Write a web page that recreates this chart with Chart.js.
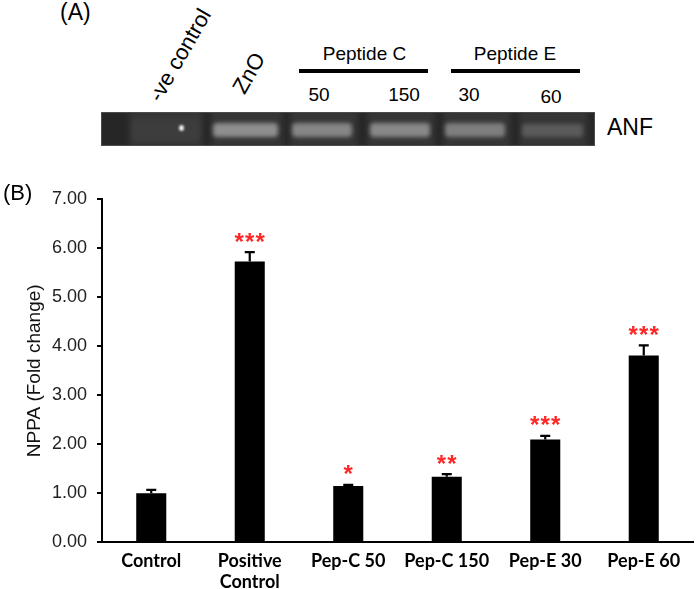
<!DOCTYPE html>
<html><head><meta charset="utf-8">
<script src="https://cdn.jsdelivr.net/npm/chart.js@4.4.1/dist/chart.umd.min.js"></script>
<style>
html,body{margin:0;padding:0;background:#fff;}
#page{position:relative;width:699px;height:589px;overflow:hidden;background:#fff;font-family:"Liberation Sans",Arial,sans-serif;color:#000;}
.t{position:absolute;white-space:nowrap;line-height:1;}
#gel{position:absolute;left:101px;top:112px;width:494px;height:34px;background:#262626;overflow:hidden;}
#gelFrame{position:absolute;left:101px;top:112px;width:492px;height:32px;border:1px solid #4c4c4c;}
.lane{position:absolute;top:-4px;height:42px;background:#363636;filter:blur(3px);}
.band{position:absolute;border-radius:4px;filter:blur(2.2px);}
.rule{position:absolute;height:4px;background:#000;}
#chartBox{position:absolute;left:0;top:170px;width:699px;height:419px;}
</style></head>
<body><div id="page">
<div id="gel"></div>
<div id="gelFrame"></div>
<div id="chartBox"><canvas id="c"></canvas></div>
</div>
<script>
// ---- data ----
const categories = ['Control', ['Positive', 'Control'], 'Pep-C 50', 'Pep-C 150', 'Pep-E 30', 'Pep-E 60'];
const meanValues = [1.00, 5.73, 1.15, 1.34, 2.10, 3.81];
const errValues  = [0.07, 0.19, 0.02, 0.05, 0.07, 0.21];
const significance = ['', '***', '*', '**', '***', '***'];
const yTickValues = [0, 1, 2, 3, 4, 5, 6, 7];
const yAxisTitle = 'NPPA (Fold change)';
// panel A texts
const laneHeaders = ['-ve control', 'ZnO'];
const groupNames = ['Peptide C', 'Peptide E'];
const doseLabels = ['50', '150', '30', '60'];
const geneName = 'ANF';

// ---- panel A (gel) layout ----
const page = document.getElementById('page');
const gel = document.getElementById('gel');
function addText(str, x, base, size, align, rot) {
  const d = document.createElement('div');
  d.className = 't';
  d.textContent = str;
  d.style.fontSize = size + 'px';
  const asc = 0.8465 * size;
  d.style.top = (base - asc) + 'px';
  d.style.left = x + 'px';
  if (rot) {
    d.style.transformOrigin = '0 ' + asc + 'px';
    d.style.transform = 'rotate(' + rot + 'deg)';
  } else if (align === 'center') {
    d.style.transform = 'translateX(-50%)';
  }
  page.appendChild(d);
  return d;
}
addText('(A)', 60, 20, 23);
addText('(B)', 3, 201, 22);
addText(laneHeaders[0], 161, 104, 22, null, -60);
addText(laneHeaders[1], 245, 96, 22, null, -60);
addText(groupNames[0], 364.5, 60, 19, 'center');
addText(groupNames[1], 515, 60, 19, 'center');
[[319, 101.5], [404, 101.5], [469, 101], [551, 103]].forEach((p, i) => addText(doseLabels[i], p[0], p[1], 19, 'center'));
addText(geneName, 607, 135, 23);
[[299, 428], [451, 580]].forEach(r => {
  const d = document.createElement('div'); d.className = 'rule';
  d.style.left = r[0] + 'px'; d.style.width = (r[1] - r[0]) + 'px'; d.style.top = '69px';
  page.appendChild(d);
});
// lanes and bands (gel picture), x relative to gel left (101), y relative to gel top (112)
[[28, 102], [110, 182], [189, 257], [266, 334], [342, 410], [418, 487]].forEach(l => {
  const d = document.createElement('div'); d.className = 'lane';
  d.style.left = l[0] + 'px'; d.style.width = (l[1] - l[0]) + 'px'; gel.appendChild(d);
});
[[31, 99, 7, 22, '#3d3d3d'], [112, 177, 11, 14, '#8e8e8e'], [191, 251, 11, 14, '#868686'],
 [269, 329, 11, 14, '#888888'], [344, 404, 11, 14, '#7e7e7e'], [421, 482, 12, 13, '#5b5b5b']].forEach(b => {
  const d = document.createElement('div'); d.className = 'band';
  d.style.left = b[0] + 'px'; d.style.width = (b[1] - b[0]) + 'px';
  d.style.top = b[2] + 'px'; d.style.height = b[3] + 'px'; d.style.background = b[4];
  gel.appendChild(d);
});
(function () {
  const d = document.createElement('div'); d.className = 'band';
  d.style.left = '78px'; d.style.top = '13px'; d.style.width = '5px'; d.style.height = '6px';
  d.style.background = '#f0f0f0'; d.style.borderRadius = '50%'; d.style.filter = 'blur(0.8px)';
  gel.appendChild(d);
})();

// ---- panel B (Chart.js) ----
const errorBars = {
  id: 'errorBars',
  afterDatasetsDraw(chart) {
    const ctx = chart.ctx, meta = chart.getDatasetMeta(0), y = chart.scales.y;
    ctx.save();
    meta.data.forEach((bar, i) => {
      const v = meanValues[i], e = errValues[i];
      const y0 = y.getPixelForValue(v), y1 = y.getPixelForValue(v + e);
      ctx.strokeStyle = '#000'; ctx.lineWidth = 2.2;
      ctx.beginPath();
      ctx.moveTo(bar.x, y0); ctx.lineTo(bar.x, y1);
      ctx.moveTo(bar.x - 5, y1); ctx.lineTo(bar.x + 5, y1);
      ctx.stroke();
      const s = significance[i];
      if (s) {
        ctx.fillStyle = '#ff2626';
        ctx.font = 'bold 24px "Liberation Sans", Arial, sans-serif';
        ctx.textAlign = 'center'; ctx.textBaseline = 'alphabetic';
        const m = ctx.measureText('*');
        const mid = (m.actualBoundingBoxAscent - m.actualBoundingBoxDescent) / 2;
        const cy = y1 - 15;
        for (let k = 0; k < s.length; k++) {
          ctx.fillText('*', bar.x + (k - (s.length - 1) / 2) * 10.5, cy + mid);
        }
      }
    });
    ctx.restore();
  }
};

new Chart(document.getElementById('c'), {
  type: 'bar',
  data: {
    labels: categories,
    datasets: [{ data: meanValues, backgroundColor: '#000', borderWidth: 0, barPercentage: 0.305, categoryPercentage: 1 }]
  },
  options: {
    responsive: true, maintainAspectRatio: false, animation: false,
    layout: { padding: { top: 29.3, right: 6, left: 0, bottom: 0 } },
    plugins: { legend: { display: false }, tooltip: { enabled: false } },
    scales: {
      x: {
        grid: { display: false, drawTicks: false },
        border: { display: true, color: '#000', width: 2 },
        ticks: { font: { family: 'Lato', weight: 'bold', size: 18, lineHeight: '21.5px' }, color: '#000', padding: 8, maxRotation: 0, autoSkip: false },
        afterFit(s) { s.height = 46.7; }
      },
      y: {
        min: yTickValues[0], max: yTickValues[yTickValues.length - 1],
        afterBuildTicks(s) { s.ticks = yTickValues.map(v => ({ value: v })); },
        ticks: { callback: v => Number(v).toFixed(2), font: { family: '"Liberation Sans", Arial, sans-serif', size: 18 }, color: '#222', padding: 10 },
        grid: { drawOnChartArea: false, drawTicks: true, tickLength: 5, color: '#000', lineWidth: 2 },
        border: { display: true, color: '#000', width: 2 },
        title: { display: true, text: yAxisTitle, font: { family: '"Liberation Sans", Arial, sans-serif', size: 19 }, color: '#111', padding: { top: 23, bottom: 0 } },
        afterFit(s) { s.width = 102; }
      }
    }
  },
  plugins: [errorBars]
});
</script>
</body></html>
